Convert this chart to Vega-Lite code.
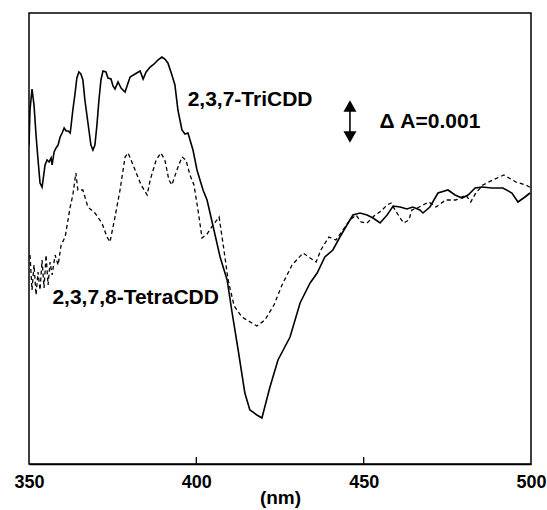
{
  "$schema": "https://vega.github.io/schema/vega-lite/v6.json",
  "width": 502,
  "height": 451,
  "autosize": {"type": "none"},
  "padding": {"left": 29, "top": 13, "right": 16, "bottom": 46},
  "background": "white",
  "config": {
    "view": {"stroke": "black", "strokeWidth": 1.5},
    "font": "Liberation Sans"
  },
  "datasets": {
    "tri": [
      {"nm": 350.0, "v": 319}, {"nm": 350.3, "v": 354}, {"nm": 350.9, "v": 375}, {"nm": 351.5, "v": 359},
      {"nm": 352.1, "v": 329}, {"nm": 352.7, "v": 304}, {"nm": 353.3, "v": 281}, {"nm": 353.9, "v": 277},
      {"nm": 354.2, "v": 284}, {"nm": 354.8, "v": 299}, {"nm": 355.4, "v": 304}, {"nm": 356.0, "v": 302},
      {"nm": 356.6, "v": 306}, {"nm": 356.9, "v": 299}, {"nm": 357.5, "v": 312}, {"nm": 358.1, "v": 316},
      {"nm": 358.7, "v": 319}, {"nm": 359.3, "v": 327}, {"nm": 359.9, "v": 331}, {"nm": 360.5, "v": 336},
      {"nm": 361.1, "v": 333}, {"nm": 361.7, "v": 333}, {"nm": 362.3, "v": 331}, {"nm": 362.5, "v": 336},
      {"nm": 363.1, "v": 354}, {"nm": 363.7, "v": 369}, {"nm": 364.3, "v": 386}, {"nm": 364.9, "v": 392},
      {"nm": 365.5, "v": 390}, {"nm": 366.1, "v": 384}, {"nm": 366.7, "v": 364}, {"nm": 367.3, "v": 349},
      {"nm": 367.9, "v": 334}, {"nm": 368.5, "v": 319}, {"nm": 369.1, "v": 314}, {"nm": 369.7, "v": 319},
      {"nm": 370.3, "v": 339}, {"nm": 370.9, "v": 364}, {"nm": 371.5, "v": 384}, {"nm": 372.1, "v": 393},
      {"nm": 373.0, "v": 392}, {"nm": 373.6, "v": 386}, {"nm": 374.5, "v": 385}, {"nm": 375.1, "v": 378},
      {"nm": 375.7, "v": 375}, {"nm": 376.6, "v": 382}, {"nm": 377.5, "v": 376}, {"nm": 378.7, "v": 372},
      {"nm": 380.2, "v": 387}, {"nm": 381.7, "v": 390}, {"nm": 383.2, "v": 393}, {"nm": 384.1, "v": 385},
      {"nm": 385.0, "v": 392}, {"nm": 386.2, "v": 397}, {"nm": 387.4, "v": 400}, {"nm": 388.5, "v": 404},
      {"nm": 389.7, "v": 407}, {"nm": 390.6, "v": 405}, {"nm": 391.5, "v": 401}, {"nm": 392.7, "v": 389},
      {"nm": 393.6, "v": 379}, {"nm": 394.5, "v": 354}, {"nm": 395.7, "v": 334}, {"nm": 396.6, "v": 330},
      {"nm": 397.5, "v": 331}, {"nm": 399.0, "v": 314}, {"nm": 400.2, "v": 294}, {"nm": 401.1, "v": 284},
      {"nm": 402.0, "v": 274}, {"nm": 403.2, "v": 264}, {"nm": 404.1, "v": 251}, {"nm": 405.6, "v": 229},
      {"nm": 407.1, "v": 207}, {"nm": 409.2, "v": 184}, {"nm": 410.7, "v": 151}, {"nm": 412.5, "v": 114},
      {"nm": 414.5, "v": 71}, {"nm": 416.0, "v": 54}, {"nm": 418.1, "v": 49}, {"nm": 419.6, "v": 46},
      {"nm": 422.0, "v": 77}, {"nm": 424.4, "v": 104}, {"nm": 428.0, "v": 127}, {"nm": 431.0, "v": 161},
      {"nm": 434.0, "v": 181}, {"nm": 436.1, "v": 191}, {"nm": 438.4, "v": 207}, {"nm": 440.8, "v": 214},
      {"nm": 442.9, "v": 227}, {"nm": 445.0, "v": 239}, {"nm": 446.8, "v": 249}, {"nm": 448.9, "v": 251},
      {"nm": 451.0, "v": 249}, {"nm": 452.8, "v": 246}, {"nm": 454.9, "v": 241}, {"nm": 457.0, "v": 249},
      {"nm": 458.8, "v": 258}, {"nm": 460.9, "v": 257}, {"nm": 462.9, "v": 255}, {"nm": 464.7, "v": 257},
      {"nm": 466.8, "v": 254}, {"nm": 467.7, "v": 251}, {"nm": 469.8, "v": 257}, {"nm": 472.2, "v": 271},
      {"nm": 475.2, "v": 274}, {"nm": 477.3, "v": 269}, {"nm": 479.4, "v": 266}, {"nm": 481.2, "v": 269},
      {"nm": 483.3, "v": 276}, {"nm": 485.4, "v": 277}, {"nm": 488.3, "v": 276}, {"nm": 491.6, "v": 276},
      {"nm": 494.3, "v": 271}, {"nm": 496.1, "v": 262}, {"nm": 498.2, "v": 267}, {"nm": 499.7, "v": 271}
    ],
    "tetra": [
      {"nm": 350.3, "v": 209}, {"nm": 350.9, "v": 174}, {"nm": 351.5, "v": 199}, {"nm": 352.1, "v": 169},
      {"nm": 352.7, "v": 192}, {"nm": 353.3, "v": 174}, {"nm": 353.9, "v": 204}, {"nm": 354.5, "v": 176},
      {"nm": 355.1, "v": 209}, {"nm": 355.7, "v": 179}, {"nm": 356.3, "v": 202}, {"nm": 356.9, "v": 189},
      {"nm": 357.8, "v": 209}, {"nm": 358.7, "v": 199}, {"nm": 359.6, "v": 219}, {"nm": 360.8, "v": 227},
      {"nm": 362.3, "v": 257}, {"nm": 363.1, "v": 269}, {"nm": 364.0, "v": 291}, {"nm": 364.6, "v": 274},
      {"nm": 366.1, "v": 274}, {"nm": 367.6, "v": 257}, {"nm": 369.7, "v": 251}, {"nm": 371.8, "v": 241},
      {"nm": 373.3, "v": 227}, {"nm": 374.2, "v": 222}, {"nm": 375.7, "v": 247}, {"nm": 377.2, "v": 274},
      {"nm": 378.7, "v": 307}, {"nm": 379.6, "v": 311}, {"nm": 381.1, "v": 299}, {"nm": 383.5, "v": 279},
      {"nm": 385.3, "v": 269}, {"nm": 386.2, "v": 284}, {"nm": 388.0, "v": 304}, {"nm": 389.4, "v": 311},
      {"nm": 390.6, "v": 304}, {"nm": 391.8, "v": 284}, {"nm": 392.7, "v": 279}, {"nm": 394.2, "v": 294},
      {"nm": 395.7, "v": 307}, {"nm": 396.9, "v": 304}, {"nm": 398.1, "v": 289}, {"nm": 399.3, "v": 279},
      {"nm": 400.5, "v": 254}, {"nm": 401.7, "v": 226}, {"nm": 403.2, "v": 230}, {"nm": 405.0, "v": 239},
      {"nm": 406.8, "v": 247}, {"nm": 408.0, "v": 220}, {"nm": 409.5, "v": 184}, {"nm": 411.3, "v": 158},
      {"nm": 413.6, "v": 147}, {"nm": 415.1, "v": 144}, {"nm": 418.1, "v": 138}, {"nm": 420.5, "v": 144},
      {"nm": 423.2, "v": 159}, {"nm": 425.6, "v": 179}, {"nm": 428.6, "v": 199}, {"nm": 431.9, "v": 211},
      {"nm": 434.0, "v": 206}, {"nm": 435.8, "v": 202}, {"nm": 437.2, "v": 214}, {"nm": 439.6, "v": 227},
      {"nm": 441.7, "v": 224}, {"nm": 443.8, "v": 234}, {"nm": 445.9, "v": 244}, {"nm": 447.7, "v": 249},
      {"nm": 449.2, "v": 242}, {"nm": 451.0, "v": 241}, {"nm": 453.1, "v": 248}, {"nm": 455.2, "v": 253},
      {"nm": 457.0, "v": 259}, {"nm": 458.2, "v": 261}, {"nm": 459.4, "v": 254}, {"nm": 460.9, "v": 246},
      {"nm": 462.0, "v": 241}, {"nm": 463.5, "v": 244}, {"nm": 464.4, "v": 254}, {"nm": 466.0, "v": 256},
      {"nm": 467.7, "v": 259}, {"nm": 469.5, "v": 262}, {"nm": 471.6, "v": 257}, {"nm": 474.5, "v": 264},
      {"nm": 477.5, "v": 264}, {"nm": 480.5, "v": 269}, {"nm": 482.0, "v": 262}, {"nm": 483.5, "v": 271},
      {"nm": 485.6, "v": 279}, {"nm": 488.6, "v": 284}, {"nm": 491.9, "v": 289}, {"nm": 495.5, "v": 282},
      {"nm": 498.5, "v": 279}, {"nm": 500.0, "v": 276}
    ],
    "labels": [
      {"nm": 397.4, "v": 364, "label": "2,3,7-TriCDD"},
      {"nm": 357.0, "v": 166, "label": "2,3,7,8-TetraCDD"},
      {"nm": 454.7, "v": 342, "label": "Δ A=0.001"}
    ],
    "arrow": [{"nm": 445.9, "v1": 358, "v2": 327}],
    "heads": [
      {"nm": 445.9, "v": 358, "dir": "up"},
      {"nm": 445.9, "v": 327, "dir": "down"}
    ],
    "ticks": [
      {"nm": 400, "v1": 0, "v2": 7},
      {"nm": 450, "v1": 0, "v2": 7}
    ]
  },
  "layer": [
    {
      "data": {"name": "tri"},
      "mark": {"type": "line", "color": "black", "strokeWidth": 1.6, "clip": true},
      "encoding": {
        "x": {
          "field": "nm", "type": "quantitative",
          "scale": {"domain": [350, 500], "nice": false, "zero": false},
          "axis": {
            "values": [350, 400, 450, 500],
            "title": "(nm)",
            "titleFont": "Liberation Sans", "titleFontSize": 19, "titleFontWeight": "bold",
            "titleColor": "black", "titlePadding": -3,
            "labelFont": "Liberation Sans", "labelFontSize": 18, "labelFontWeight": "bold",
            "labelColor": "black", "labelPadding": 9, "labelFlush": false,
            "ticks": false,
            "domainColor": "black", "domainWidth": 1.5, "grid": false
          }
        },
        "y": {
          "field": "v", "type": "quantitative",
          "scale": {"domain": [0, 451], "nice": false},
          "axis": null
        }
      }
    },
    {
      "data": {"name": "tetra"},
      "mark": {"type": "line", "color": "black", "strokeWidth": 1.3, "strokeDash": [4, 3], "clip": true},
      "encoding": {
        "x": {"field": "nm", "type": "quantitative"},
        "y": {"field": "v", "type": "quantitative"}
      }
    },
    {
      "data": {"name": "ticks"},
      "mark": {"type": "rule", "color": "black", "strokeWidth": 1.3},
      "encoding": {
        "x": {"field": "nm", "type": "quantitative"},
        "y": {"field": "v1", "type": "quantitative"},
        "y2": {"field": "v2"}
      }
    },
    {
      "data": {"name": "arrow"},
      "mark": {"type": "rule", "color": "black", "strokeWidth": 1.6},
      "encoding": {
        "x": {"field": "nm", "type": "quantitative"},
        "y": {"field": "v1", "type": "quantitative"},
        "y2": {"field": "v2"}
      }
    },
    {
      "data": {"name": "heads"},
      "mark": {"type": "point", "filled": true, "color": "black", "opacity": 1, "size": 170},
      "encoding": {
        "x": {"field": "nm", "type": "quantitative"},
        "y": {"field": "v", "type": "quantitative"},
        "shape": {
          "field": "dir", "type": "nominal",
          "scale": {"domain": ["up", "down"], "range": ["triangle-up", "triangle-down"]},
          "legend": null
        }
      }
    },
    {
      "data": {"name": "labels"},
      "mark": {"type": "text", "align": "left", "baseline": "middle", "font": "Liberation Sans", "fontSize": 21, "fontWeight": "bold", "color": "black"},
      "encoding": {
        "x": {"field": "nm", "type": "quantitative"},
        "y": {"field": "v", "type": "quantitative"},
        "text": {"field": "label"}
      }
    }
  ]
}
